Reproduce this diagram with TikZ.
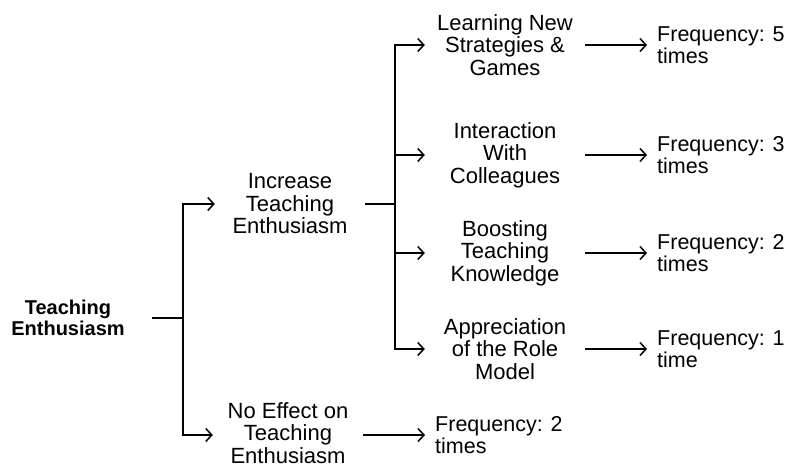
\documentclass[tikz,border=0pt]{standalone}
\usepackage{fontspec}
\setmainfont{Liberation Sans}
\usetikzlibrary{arrows.meta}
\usetikzlibrary{positioning}
\usetikzlibrary{calc}

\begin{document}
\begin{tikzpicture}[
  x=1pt,y=-1pt,
  dep/.style ={
    -{Straight Barb[length=6pt,width=13pt,line width=1.5pt]},line width=1.5pt
  },
  link/.style ={
    line width=1.5pt
  },
  topic/.style={
    align=center,
    inner sep=0pt,
    minimum width=#1,
    font=\fontsize{22}{22.5}\selectfont},
  rootnode/.style={
    topic=#1,
    font=\fontsize{20}{21.5}\selectfont\bfseries},
  freq/.style={
    align=left,
    anchor=west,
    inner xsep=10pt,
    inner ysep=0pt,
    font=\fontsize{21.5}{22.5}\selectfont},
]
  \useasboundingbox (0,0) rectangle (786,469);

  \def\forkA{183}%
  \def\forkB{395}%

  % root and first level
  \node[rootnode=168] (root) at (68,318) {Teaching\\Enthusiasm};
  \node[topic=150] (incr) at (290,204) {Increase\\Teaching\\Enthusiasm};
  \node[topic=150] (noeff) at (288,433) {No Effect on\\Teaching\\Enthusiasm};
  \node[freq] (noeff_f) at (425,435) {Frequency: 2\\times};

  \coordinate (rootfork) at (\forkA,318);
  \coordinate (incrfork) at (\forkB,204);

  \draw[link] (root.east) -- (rootfork);
  \draw[dep] (rootfork) |- (incr.west);
  \draw[dep] (rootfork) |- (noeff_f.west -| noeff.west);
  \draw[dep] (noeff.east |- noeff_f.west) -- (noeff_f.west);

  % second level
  \foreach \name/\ypos/\txt/\cnt in {
      learn/45/{Learning New\\Strategies \&\\Games}/{5\\times},
      inter/155/{Interaction\\With\\Colleagues}/{3\\times},
      boost/253/{Boosting\\Teaching\\Knowledge}/{2\\times},
      appr/349/{Appreciation\\of the Role\\Model}/{1\\time}} {
    \node[topic=160] (\name) at (505,\ypos) {\txt};
    \node[freq] (\name_f) at (647,\ypos) {Frequency: \cnt};

    \draw[dep] (incrfork) |- (\name.west);
    \draw[dep] (\name.east) -- (\name_f.west);
  }
  \draw[link] (incr.east) -- (incrfork);

\end{tikzpicture}
\end{document}
